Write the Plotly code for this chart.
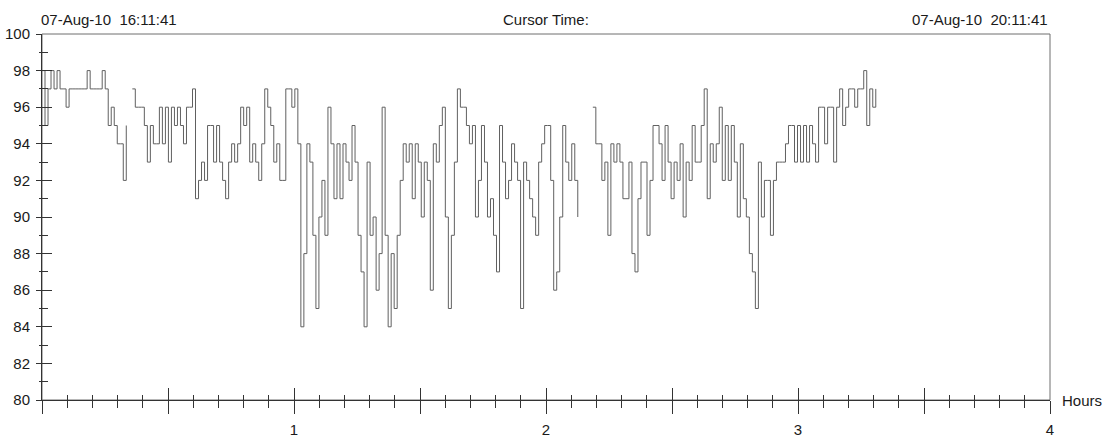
import plotly.graph_objects as go

# ---- data -----------------------------------------------------------------
SAMPLE_SECONDS = 43  # sampling interval of the trend
SPO2 = [
    98, 95, 97, 98, 97, 98, 97, 97, 96, 97,
    97, 97, 97, 97, 97, 98, 97, 97, 97, 97,
    98, 97, 95, 96, 95, 94, 94, 92, 95, None,
    97, 96, 96, 96, 95, 93, 95, 94, 94, 96,
    94, 96, 93, 96, 95, 96, 95, 94, 96, 96,
    97, 91, 92, 93, 92, 95, 95, 93, 95, 93,
    92, 91, 93, 94, 93, 94, 96, 95, 96, 93,
    94, 93, 92, 94, 97, 96, 95, 93, 94, 92,
    92, 97, 97, 96, 97, 94, 84, 88, 94, 93,
    89, 85, 90, 92, 89, 96, 94, 91, 94, 91,
    94, 93, 92, 95, 93, 89, 87, 84, 93, 89,
    90, 86, 88, 96, 89, 84, 88, 85, 89, 92,
    94, 93, 94, 91, 94, 93, 90, 93, 92, 86,
    94, 93, 95, 96, 90, 85, 89, 93, 97, 96,
    96, 95, 94, 95, 90, 92, 95, 93, 90, 91,
    89, 87, 95, 93, 91, 92, 94, 93, 92, 85,
    93, 92, 91, 90, 89, 93, 94, 95, 95, 92,
    86, 87, 90, 95, 93, 92, 94, 92, 90, None,
    None, None, None, 96, 94, 94, 92, 93, 89, 94,
    93, 94, 93, 91, 91, 93, 88, 87, 91, 93,
    93, 89, 92, 95, 95, 94, 92, 95, 93, 91,
    93, 92, 94, 90, 93, 92, 95, 93, 93, 95,
    97, 91, 94, 93, 94, 96, 92, 95, 92, 95,
    93, 90, 94, 91, 90, 88, 87, 85, 93, 90,
    92, 92, 89, 92, 93, 93, 93, 94, 95, 95,
    93, 95, 93, 95, 93, 95, 94, 93, 96, 96,
    94, 96, 96, 93, 96, 97, 95, 96, 97, 97,
    96, 97, 97, 98, 95, 97, 96, 97,
]
HOURS = [i * SAMPLE_SECONDS / 3600 for i in range(len(SPO2))]

X_MAJOR = [0, 0.5, 1, 1.5, 2, 2.5, 3, 3.5, 4]
X_LABELS = ["", "", "1", "", "2", "", "3", "", "4"]
Y_MAJOR = [80, 82, 84, 86, 88, 90, 92, 94, 96, 98, 100]
Y_LABELS = [str(v) for v in Y_MAJOR]

START_TEXT = "07-Aug-10  16:11:41"
END_TEXT = "07-Aug-10  20:11:41"
CENTER_TEXT = "Cursor Time:"
UNIT_TEXT = "Hours"

FONT = "Liberation Sans, Arial, sans-serif"
AX = "#333333"
TXT = "#1a1a1a"

fig = go.Figure()
fig.add_trace(go.Scatter(
    x=HOURS, y=SPO2, mode="lines", line=dict(color="#606060", width=1, shape="hv"),
    connectgaps=False, hoverinfo="x+y", showlegend=False,
))
# helper trace for the overlay axes carrying the inward half of the tick marks
fig.add_trace(go.Scatter(x=[None], y=[None], xaxis="x2", yaxis="y2",
                         showlegend=False, hoverinfo="skip"))

fig.update_layout(
    width=1109, height=439,
    margin=dict(l=42, r=59, t=34, b=39),
    paper_bgcolor="white", plot_bgcolor="white",
    font=dict(family=FONT, size=15, color=TXT),
    showlegend=False,
    xaxis=dict(
        range=[0, 4], showgrid=False, zeroline=False, showline=True,
        linecolor=AX, linewidth=1, automargin=False,
        tickmode="array", tickvals=X_MAJOR, ticktext=X_LABELS,
        ticks="outside", ticklen=13, tickcolor=AX, tickwidth=1,
        ticklabelstandoff=3,
        minor=dict(ticks="outside", ticklen=7, dtick=0.1, tick0=0,
                   tickcolor=AX, tickwidth=1, showgrid=False),
    ),
    yaxis=dict(
        range=[80, 100], showgrid=False, zeroline=False, showline=True,
        linecolor=AX, linewidth=1, automargin=False,
        tickmode="array", tickvals=Y_MAJOR, ticktext=Y_LABELS,
        ticks="outside", ticklen=5, tickcolor=AX, tickwidth=1,
        ticklabelstandoff=3,
        minor=dict(ticks="outside", ticklen=2, dtick=1, tick0=80,
                   tickcolor=AX, tickwidth=1, showgrid=False),
    ),
    xaxis2=dict(
        range=[0, 4], overlaying="x", anchor="y2", showgrid=False, zeroline=False,
        showline=False, showticklabels=False, automargin=False,
        tickmode="array", tickvals=X_MAJOR,
        ticks="inside", ticklen=12, tickcolor=AX, tickwidth=1,
        minor=dict(ticks="inside", ticklen=5, dtick=0.1, tick0=0,
                   tickcolor=AX, tickwidth=1, showgrid=False),
    ),
    yaxis2=dict(
        range=[80, 100], overlaying="y", anchor="x2", showgrid=False, zeroline=False,
        showline=False, showticklabels=False, automargin=False,
        tickmode="array", tickvals=Y_MAJOR,
        ticks="inside", ticklen=10, tickcolor=AX, tickwidth=1,
        minor=dict(ticks="inside", ticklen=6, dtick=1, tick0=80,
                   tickcolor=AX, tickwidth=1, showgrid=False),
    ),
    shapes=[dict(type="rect", xref="paper", yref="paper", x0=0, x1=1, y0=0, y1=1,
                 line=dict(color="#6e6e6e", width=1), fillcolor="rgba(0,0,0,0)",
                 layer="below")],
    annotations=[
        dict(text=START_TEXT, xref="paper", yref="paper", x=0, y=1, xanchor="left",
             yanchor="bottom", xshift=-3, yshift=4, showarrow=False),
        dict(text=CENTER_TEXT, xref="paper", yref="paper", x=0.5, y=1, xanchor="center",
             yanchor="bottom", yshift=4, showarrow=False),
        dict(text=END_TEXT, xref="paper", yref="paper", x=1, y=1, xanchor="right",
             yanchor="bottom", yshift=4, showarrow=False),
        dict(text=UNIT_TEXT, xref="paper", yref="paper", x=1, y=0, xanchor="left",
             yanchor="middle", xshift=10, showarrow=False),
    ],
)

fig.write_html("out.html")
